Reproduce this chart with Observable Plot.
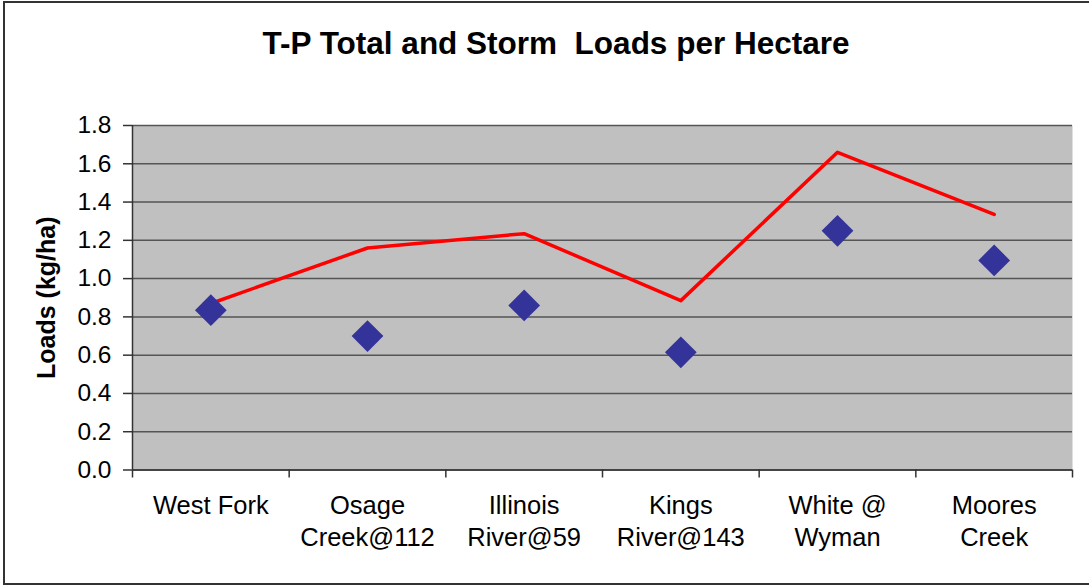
<!DOCTYPE html>
<html>
<head>
<meta charset="utf-8">
<script src="https://cdn.jsdelivr.net/npm/d3@7"></script>
<script src="https://cdn.jsdelivr.net/npm/@observablehq/plot@0.6"></script>
<style>
  html, body { margin: 0; padding: 0; background: #fff; overflow: hidden; }
  #wrap { position: relative; width: 1089px; height: 588px; font-family: "Liberation Sans", Arial, sans-serif; }
  #frame { position: absolute; left: 3px; top: 1px; width: 1100px; height: 584px;
           border-left: 2px solid #333; border-top: 2px solid #333; border-bottom: 2px solid #333; box-sizing: border-box; }
  #title { position: absolute; left: 0; top: 25px; width: 1112px; text-align: center;
           font-weight: bold; font-size: 31.5px; color: #000; white-space: pre; }
  #chart { position: absolute; left: 0; top: 90px; }
</style>
</head>
<body>
<div id="wrap">
  <div id="frame"></div>
  <div id="title">T-P Total and Storm  Loads per Hectare</div>
  <div id="chart"></div>
</div>
<script>
const categories = ["West Fork", "Osage\nCreek@112", "Illinois\nRiver@59", "Kings\nRiver@143", "White @\nWyman", "Moores\nCreek"];
const totalLoads = [0.87, 1.16, 1.235, 0.885, 1.66, 1.335];
const stormLoads = [0.835, 0.70, 0.86, 0.615, 1.25, 1.095];
const yTicks = [0, 0.2, 0.4, 0.6, 0.8, 1.0, 1.2, 1.4, 1.6, 1.8];

const rows = categories.map((c, i) => ({ pos: i + 0.5, name: c, total: totalLoads[i], storm: stormLoads[i] }));
const boundaries = d3.range(0, categories.length + 1);
const centers = rows.map(d => d.pos);

const font = "'Liberation Sans', Arial, sans-serif";

const chart = Plot.plot({
  width: 1089,
  height: 498,
  marginLeft: 132,
  marginRight: 17,
  marginTop: 35,
  marginBottom: 118.5,
  style: { fontFamily: font, fontSize: "24px", color: "#000", background: "transparent" },
  x: { domain: [0, categories.length], axis: null },
  y: { domain: [0, 1.8], axis: null },
  marks: [
    Plot.frame({ fill: "#C0C0C0", stroke: null }),
    Plot.gridY(yTicks, { stroke: "#555", strokeOpacity: 1, strokeWidth: 1.5 }),
    Plot.ruleX([0], { stroke: "#333", strokeWidth: 1.5 }),
    Plot.ruleY([0], { stroke: "#333", strokeWidth: 1.5 }),
    Plot.axisY({ ticks: yTicks, tickFormat: d => d.toFixed(1), tickSize: 9, tickPadding: 12,
                 stroke: "#333", strokeWidth: 1.5, fontSize: 24.5,
                 label: "Loads (kg/ha)", labelAnchor: "center", labelArrow: "none", labelOffset: 95 }),
    Plot.axisX({ ticks: boundaries, tickFormat: () => "", tickSize: 8, stroke: "#333", strokeWidth: 1.5, label: null }),
    Plot.axisX({ ticks: centers, tickFormat: (d, i) => categories[i], tickSize: 0, tickPadding: 21,
                 fontSize: 25.5, lineHeight: 1.255, label: null }),
    Plot.line(rows, { x: "pos", y: "total", stroke: "#FF0000", strokeWidth: 3.5 }),
    Plot.dot(rows, { x: "pos", y: "storm", symbol: "diamond2", r: 14.3, fill: "#333399", stroke: null })
  ]
});
chart.querySelectorAll("g[aria-label='y-axis label'] text").forEach(t => { t.style.fontWeight = "bold"; t.style.fontSize = "25px"; });
document.getElementById("chart").appendChild(chart);
</script>
</body>
</html>
